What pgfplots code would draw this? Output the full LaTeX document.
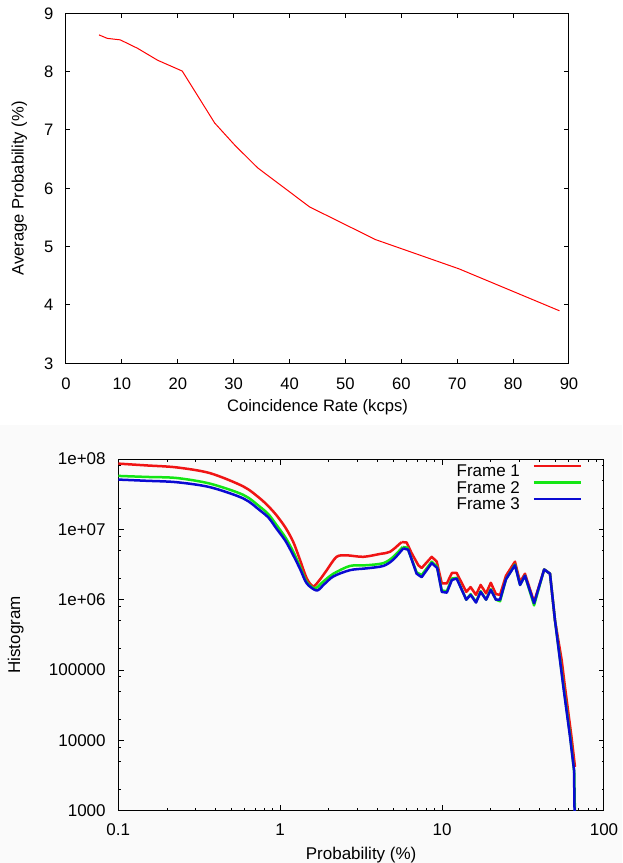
\documentclass[border=0pt]{standalone}
\usepackage{pgfplots}
\pgfplotsset{compat=1.18}
\usepackage{fontspec}
\setmainfont{Liberation Sans}
\definecolor{gpred}{RGB}{240,20,20}
\definecolor{gpgreen}{RGB}{20,230,20}
\definecolor{gpblue}{RGB}{10,10,210}
\begin{document}
\begin{tikzpicture}[font=\fontsize{8.3}{10}\selectfont]
\useasboundingbox (0,0) rectangle (311pt,-431.5pt);
\fill[black!2] (0,-212.5pt) rectangle (311pt,-431.5pt);
\begin{axis}[
  at={(33pt,-6.65pt)}, anchor=north west,
  scale only axis, width=251.5pt, height=175pt,
  xmin=0, xmax=90, ymin=3, ymax=9,
  xtick={0,10,20,30,40,50,60,70,80,90},
  xticklabels={0,10,20,30,40,50,60,70,80,90},
  ytick={3,4,5,6,7,8,9},
  yticklabels={3,4,5,6,7,8,9},
  tick align=inside, major tick length=2.25pt,
  tick label style={font=\fontsize{8.3}{10}\selectfont},
  label style={font=\fontsize{8.3}{10}\selectfont},
  xticklabel style={yshift=-4pt},
  yticklabel style={xshift=-2.8pt},
  xlabel={Coincidence Rate (kcps)},
  ylabel={Average Probability (\%)},
  xlabel style={at={(axis description cs:0.5,-0.1383)}, anchor=base},
  ylabel style={at={(axis description cs:-0.0841,0.5)}, anchor=base},
  axis line style={line width=0.5pt},
  tick style={line width=0.5pt, black},
]
\addplot[color=red, line width=0.5pt] coordinates {
(5.9,8.63) (7.4,8.57) (9.7,8.545) (12.8,8.40) (16.4,8.195) (20.8,8.01)
(26.6,7.12) (30.2,6.74) (34.3,6.35) (43.6,5.68) (55.4,5.12) (70.3,4.62) (88.3,3.90)
};
\end{axis}
\begin{axis}[
  at={(59.15pt,-229.5pt)}, anchor=north west,
  scale only axis, width=242.85pt, height=175.85pt,
  xmode=log, ymode=log,
  xmin=0.1, xmax=100, ymin=1000, ymax=1e8,
  xtick={0.1,1,10,100}, xticklabels={0.1,1,10,100},
  ytick={1e3,1e4,1e5,1e6,1e7,1e8},
  yticklabels={1000,10000,100000,1e+06,1e+07,1e+08},
  minor xtick={0.2,0.3,0.4,0.5,0.6,0.7,0.8,0.9,2,3,4,5,6,7,8,9,20,30,40,50,60,70,80,90},
  minor ytick={2e3,5e3,8e3,2e4,5e4,8e4,2e5,5e5,8e5,2e6,5e6,8e6,2e7,5e7,8e7},
  tick align=inside, major tick length=2.75pt, minor tick length=1.25pt,
  tick label style={font=\fontsize{8.5}{10}\selectfont},
  label style={font=\fontsize{8.5}{10}\selectfont},
  xticklabel style={yshift=-3pt},
  yticklabel style={xshift=-2.8pt},
  xlabel={Probability (\%)},
  ylabel={Histogram},
  xlabel style={at={(axis description cs:0.5,-0.1388)}, anchor=base},
  ylabel style={at={(axis description cs:-0.2020,0.5)}, anchor=base},
  axis line style={line width=0.5pt},
  tick style={line width=0.5pt, black},
  legend style={at={(axis description cs:0.957,0.986)}, anchor=north east,
    draw=none, fill=none, inner sep=0pt, row sep=0.85pt, column sep=6.35pt,
    font=\fontsize{8.5}{10}\selectfont,
    nodes={inner sep=0pt, text height=6pt, text depth=1.5pt}},
  legend cell align=right,
  legend plot pos=right,
  legend image code/.code={\draw[#1] (0pt,3pt) -- (23.8pt,3pt);},
  every axis plot/.append style={line width=1.25pt, line join=round},
]
% Frame 1
\addplot[color=gpred, smooth, tension=0.5, forget plot] coordinates {
(0.1,8.6e7) (0.15,8.1e7) (0.229,7.6e7) (0.368,6.3e7) (0.592,4.07e7) (0.75,2.75e7)
(0.85,2.1e7) (0.95,1.58e7) (1.08,1.05e7) (1.205,6.6e6) (1.33,3.6e6) (1.46,2.0e6)
(1.6,1.55e6) (1.75,1.9e6) (1.94,2.63e6) (2.23,4.07e6) (2.58,4.27e6) (3.26,4.07e6)
(4.13,4.47e6) (4.76,4.79e6) (5.5,6.3e6) (5.62,6.6e6)
};
\addplot[color=gpred] coordinates {
(5.62,6.6e6) (6.04,6.5e6) (6.49,4.57e6)
(7.13,3.09e6) (7.48,2.82e6) (8.63,4.07e6) (9.27,3.47e6) (9.96,1.7e6) (10.7,1.7e6)
(11.5,2.4e6) (12.3,2.4e6) (14.1,1.29e6) (15.0,1.51e6) (16.2,1.17e6) (17.3,1.62e6)
(18.7,1.23e6) (20.0,1.74e6) (21.5,1.2e6) (22.8,1.17e6) (24.8,2.19e6) (28.2,3.47e6)
(30.3,1.78e6) (32.5,2.34e6) (37.0,9.3e5) (42.7,2.69e6) (46.4,2.34e6) (49.8,5.1e5)
(54.8,1.38e5) (57.4,5.75e4) (63.0,1.12e4) (66.2,4.2e3)
};
\addlegendentry{Frame 1}
% Frame 2
\addplot[color=gpgreen, smooth, tension=0.5, forget plot] coordinates {
(0.1,5.75e7) (0.15,5.56e7) (0.229,5.37e7) (0.368,4.47e7) (0.592,3.09e7) (0.75,2.09e7)
(0.85,1.62e7) (0.95,1.15e7) (1.08,7.6e6) (1.205,4.8e6) (1.33,2.9e6) (1.46,1.78e6)
(1.64,1.45e6) (1.85,1.82e6) (2.13,2.34e6) (2.7,3.02e6) (3.42,3.09e6) (4.34,3.31e6)
(5.0,4.07e6) (5.7,5.6e6)
};
\addplot[color=gpgreen] coordinates {
(5.7,5.6e6) (6.1,5.5e6) (6.96,2.45e6) (7.48,2.24e6) (8.63,3.47e6)
(9.3,2.95e6) (9.96,1.35e6) (10.7,1.32e6) (11.5,2.0e6) (12.3,2.04e6) (14.1,1.0e6)
(15.0,1.2e6) (16.2,9.3e5) (17.3,1.32e6) (18.7,1.0e6) (20.0,1.41e6) (21.5,1.0e6)
(22.8,9.5e5) (24.8,1.95e6) (28.2,3.16e6) (30.3,1.62e6) (32.5,2.19e6) (37.0,8.3e5)
(42.7,2.69e6) (46.4,2.34e6) (49.8,5.1e5) (56.3,5.75e4) (61.9,1.12e4) (65.5,3.5e3) (66.2,800)
};
\addlegendentry{Frame 2}
% Frame 3
\addplot[color=gpblue, smooth, tension=0.5, forget plot] coordinates {
(0.1,5.1e7) (0.15,4.9e7) (0.229,4.68e7) (0.368,3.98e7) (0.592,2.75e7) (0.75,1.86e7)
(0.85,1.45e7) (0.95,1.02e7) (1.08,6.8e6) (1.205,4.27e6) (1.33,2.7e6) (1.46,1.7e6)
(1.68,1.35e6) (1.85,1.62e6) (2.13,2.14e6) (2.7,2.63e6) (3.42,2.79e6) (4.34,3.02e6)
(5.0,3.72e6) (5.76,5.37e6)
};
\addplot[color=gpblue] coordinates {
(5.76,5.37e6) (6.18,5.13e6) (6.96,2.34e6) (7.48,2.09e6) (8.63,3.31e6)
(9.33,2.82e6) (9.96,1.29e6) (10.7,1.26e6) (11.5,1.91e6) (12.3,2.0e6) (14.1,1.0e6)
(15.0,1.17e6) (16.2,9.1e5) (17.3,1.29e6) (18.7,1.0e6) (20.0,1.38e6) (21.5,1.0e6)
(22.8,1.0e6) (24.8,1.95e6) (28.2,3.09e6) (30.3,1.62e6) (32.5,2.19e6) (37.0,8.9e5)
(42.7,2.69e6) (46.4,2.34e6) (49.8,5.1e5) (56.1,5.75e4) (61.7,1.12e4) (65.3,3.8e3) (66.2,316)
};
\addlegendentry{Frame 3}
\end{axis}
\end{tikzpicture}
\end{document}
